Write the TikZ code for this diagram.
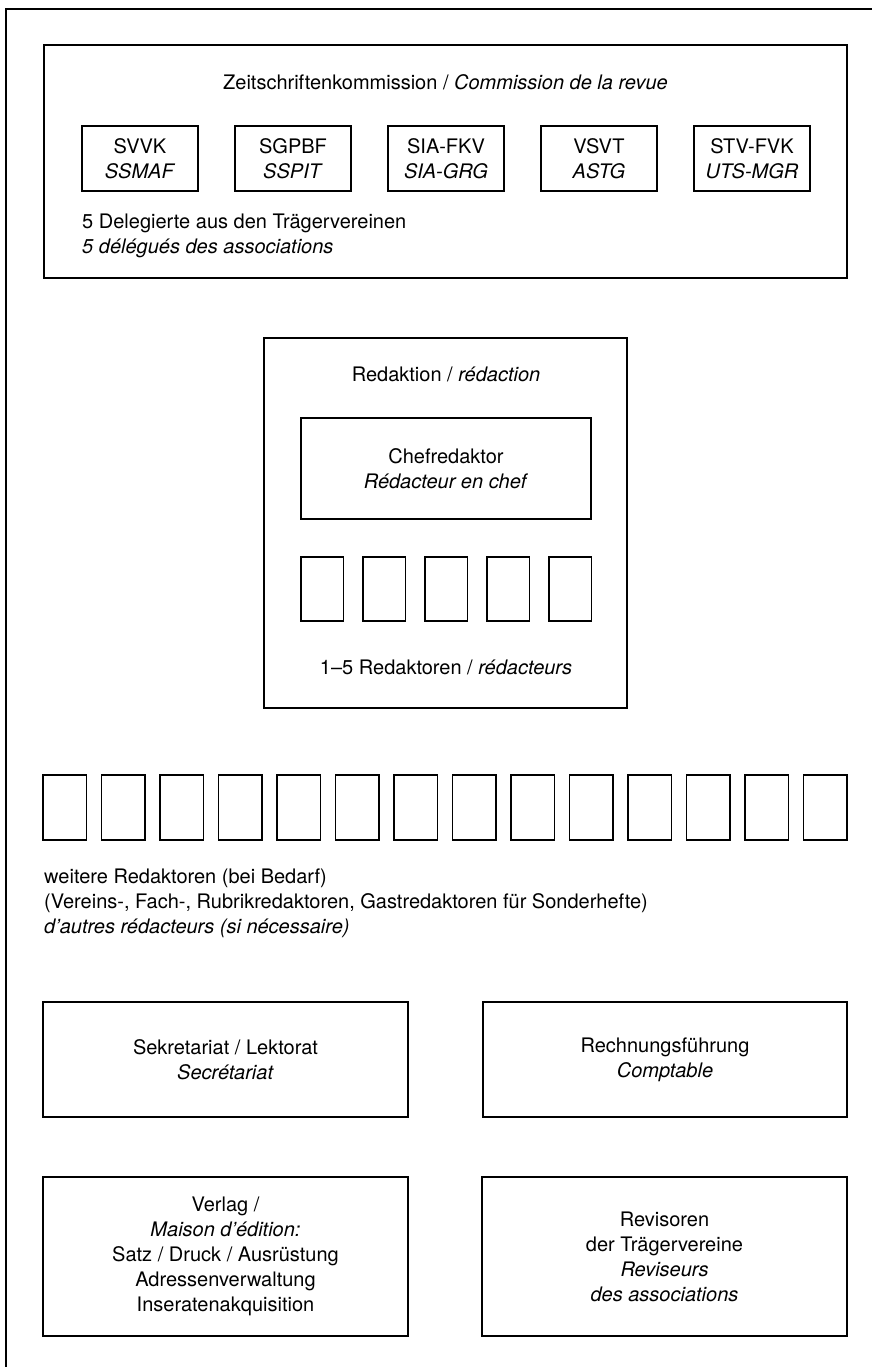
\documentclass[tikz,border=0pt]{standalone}
\usepackage{fontspec}
\setmainfont{TeX Gyre Heros}
\usepackage{tikz}
\usetikzlibrary{positioning}

\tikzset{
  orgbox/.style={draw, line width=1.5pt, align=center, inner sep=0pt},
  blankbox/.style={draw, line width=1.5pt, inner sep=0pt, minimum width=43.5pt, minimum height=65pt},
  label/.style={align=center, inner sep=0pt},
}

\begin{document}
\begin{tikzpicture}[x=1pt, y=-1pt, font=\fontsize{20pt}{25pt}\selectfont]
\useasboundingbox (0,0) rectangle (872,1367);

% Frame
\draw[line width=1.5pt] (6,1367) -- (6,9) -- (872,9);

% Zeitschriftenkommission
\node[orgbox, minimum width=803pt, minimum height=233pt] (komm) at (445.5,161.5) {};
\node[label] (kommtitle) at (445.5,82) {Zeitschriftenkommission / \textit{Commission de la revue}};
\node[orgbox, minimum width=116pt, minimum height=65pt] (svvk) at (140,158.5) {SVVK\\ \textit{SSMAF}};
\node[orgbox, minimum width=116pt, minimum height=65pt] (sgpbf) at (293,158.5) {SGPBF\\ \textit{SSPIT}};
\node[orgbox, minimum width=116pt, minimum height=65pt] (siafkv) at (446,158.5) {SIA-FKV\\ \textit{SIA-GRG}};
\node[orgbox, minimum width=116pt, minimum height=65pt] (vsvt) at (599,158.5) {VSVT\\ \textit{ASTG}};
\node[orgbox, minimum width=116pt, minimum height=65pt] (stvfvk) at (752,158.5) {STV-FVK\\ \textit{UTS-MGR}};
\node[label, align=left, anchor=west] (delegierte) at (82,235.5) {5 Delegierte aus den Trägervereinen\\ \textit{5 délégués des associations}};

% Redaktion
\node[orgbox, minimum width=363pt, minimum height=370pt] (redaktion) at (445.5,523) {};
\node[label] (redtitle) at (446,374) {Redaktion / \textit{rédaction}};
\node[orgbox, minimum width=290pt, minimum height=101pt] (chef) at (446,468.5) {Chefredaktor\\ \textit{Rédacteur en chef}};
\foreach \i in {0,...,4}
  \node[blankbox, minimum width=42.5pt, minimum height=64pt] (red\i) at (322+62*\i,589) {};
\node[label] (redcount) at (446,667) {1--5 Redaktoren / \textit{rédacteurs}};

% weitere Redaktoren
\foreach \i in {0,...,13}
  \node[blankbox] (weitere\i) at (64.75+58.5*\i,807.5) {};
\node[label, align=left, anchor=west] (weiteretext) at (44,903) {weitere Redaktoren (bei Bedarf)\\ (Vereins-, Fach-, Rubrikredaktoren, Gastredaktoren für Sonderhefte)\\ \textit{d’autres rédacteurs (si nécessaire)}};

% Sekretariat / Rechnung
\node[orgbox, minimum width=365pt, minimum height=115pt] (sekretariat) at (225.5,1059.5) {Sekretariat / Lektorat\\ \textit{Secrétariat}};
\node[orgbox, minimum width=364pt, minimum height=115pt] (rechnung) at (665,1059.5) {Rechnungsführung\\ \textit{Comptable}};

% Verlag / Revisoren
\node[orgbox, minimum width=365pt, minimum height=159pt] (verlag) at (225.5,1256.5) {Verlag /\\ \textit{Maison d’édition:}\\ Satz / Druck / Ausrüstung\\ Adressenverwaltung\\ Inseratenakquisition};
\node[orgbox, minimum width=365pt, minimum height=159pt] (revisoren) at (664.5,1256.5) {Revisoren\\ der Trägervereine\\ \textit{Reviseurs}\\ \textit{des associations}};
\end{tikzpicture}
\end{document}
